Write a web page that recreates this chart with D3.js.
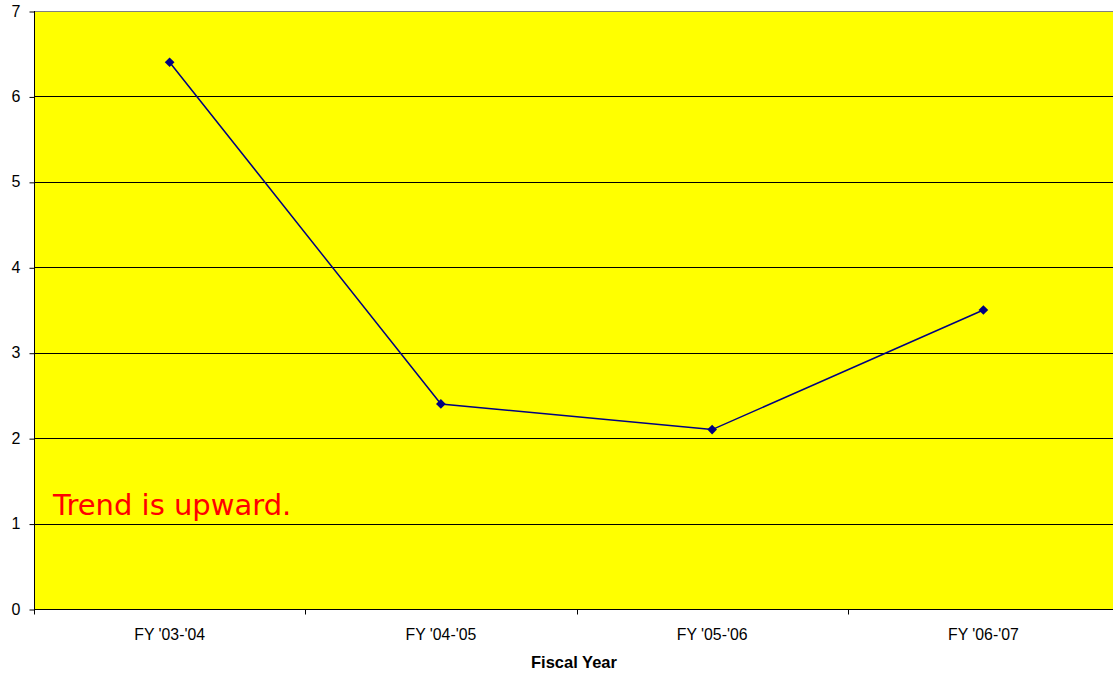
<!DOCTYPE html>
<html>
<head>
<meta charset="utf-8">
<script src="https://cdn.jsdelivr.net/npm/d3@7"></script>
<style>
  html, body { margin: 0; padding: 0; background: #fff; }
  svg { display: block; }
  text { font-family: "Liberation Sans", Arial, sans-serif; }
</style>
</head>
<body>
<svg id="chart" width="1113" height="675"></svg>
<script>
const categories = ["FY '03-'04", "FY '04-'05", "FY '05-'06", "FY '06-'07"];
const values = [6.4, 2.4, 2.1, 3.5];
const yTicks = [0, 1, 2, 3, 4, 5, 6, 7];
const note = "Trend is upward.";
const xTitle = "Fiscal Year";

const svg = d3.select("#chart");
const plotLeft = 34, plotTop = 11, plotBottom = 609, plotRight = 1119;

const x = d3.scaleBand().domain(categories).range([plotLeft, plotRight]);
const y = d3.scaleLinear().domain([0, 7]).range([plotBottom, plotTop]);

// plot background
svg.append("rect")
  .attr("x", plotLeft).attr("y", plotTop)
  .attr("width", plotRight - plotLeft).attr("height", plotBottom - plotTop)
  .attr("fill", "#ffff00");

// top border
svg.append("line")
  .attr("x1", plotLeft).attr("x2", plotRight)
  .attr("y1", plotTop + 0.5).attr("y2", plotTop + 0.5)
  .attr("stroke", "#808080");

// horizontal gridlines
svg.append("g").selectAll("line")
  .data(yTicks.filter(d => d > 0 && d < 7))
  .join("line")
  .attr("x1", plotLeft).attr("x2", plotRight)
  .attr("y1", d => Math.round(y(d)) + 0.5).attr("y2", d => Math.round(y(d)) + 0.5)
  .attr("stroke", "#000");

// y axis
const yAxis = svg.append("g")
  .attr("transform", `translate(${plotLeft + 0.5},0)`)
  .call(d3.axisLeft(y).tickValues(yTicks).tickSize(5).tickPadding(9).tickFormat(d3.format("d")));
yAxis.select(".domain").attr("stroke", "#000").attr("d", `M0,${plotTop}V${plotBottom}`);
yAxis.selectAll(".tick line").attr("transform", "translate(0,0.5)");
yAxis.selectAll("text").attr("font-size", 16).attr("fill", "#000")
  .style("font-family", '"Liberation Sans", Arial, sans-serif');

// x axis with ticks on band boundaries
const xAxis = svg.append("g").attr("transform", `translate(0,${plotBottom + 0.5})`);
xAxis.append("line").attr("x1", plotLeft).attr("x2", plotRight).attr("stroke", "#000");
const bounds = categories.map(c => x(c)).concat([plotRight]);
xAxis.selectAll("line.tick").data(bounds).join("line")
  .attr("class", "tick")
  .attr("x1", d => Math.round(d) + 0.5).attr("x2", d => Math.round(d) + 0.5)
  .attr("y1", 0).attr("y2", 5).attr("stroke", "#000");
xAxis.selectAll("text").data(categories).join("text")
  .attr("x", d => x(d) + x.bandwidth() / 2)
  .attr("y", 30.5)
  .attr("text-anchor", "middle")
  .attr("font-size", 15.8)
  .attr("fill", "#000")
  .text(d => d);

// axis title
svg.append("text")
  .attr("x", 574).attr("y", 668)
  .attr("text-anchor", "middle")
  .attr("font-size", 16.5).attr("font-weight", "bold")
  .text(xTitle);

// series line
const cx = d => x(d) + x.bandwidth() / 2;
svg.append("path")
  .datum(values)
  .attr("fill", "none")
  .attr("stroke", "#000080")
  .attr("stroke-width", 1.5)
  .attr("d", d3.line().x((d, i) => cx(categories[i])).y(d => y(d)));

// diamond markers
svg.append("g").selectAll("path")
  .data(values)
  .join("path")
  .attr("transform", (d, i) => `translate(${cx(categories[i])},${y(d)})`)
  .attr("d", d3.symbol().type(d3.symbolDiamond2).size(60))
  .attr("fill", "#000080");

// annotation
svg.append("text")
  .attr("x", 53).attr("y", 515)
  .attr("fill", "#ff0000")
  .style("font-family", '"DejaVu Sans", Verdana, sans-serif')
  .style("font-size", "29px")
  .text(note);
</script>
</body>
</html>
